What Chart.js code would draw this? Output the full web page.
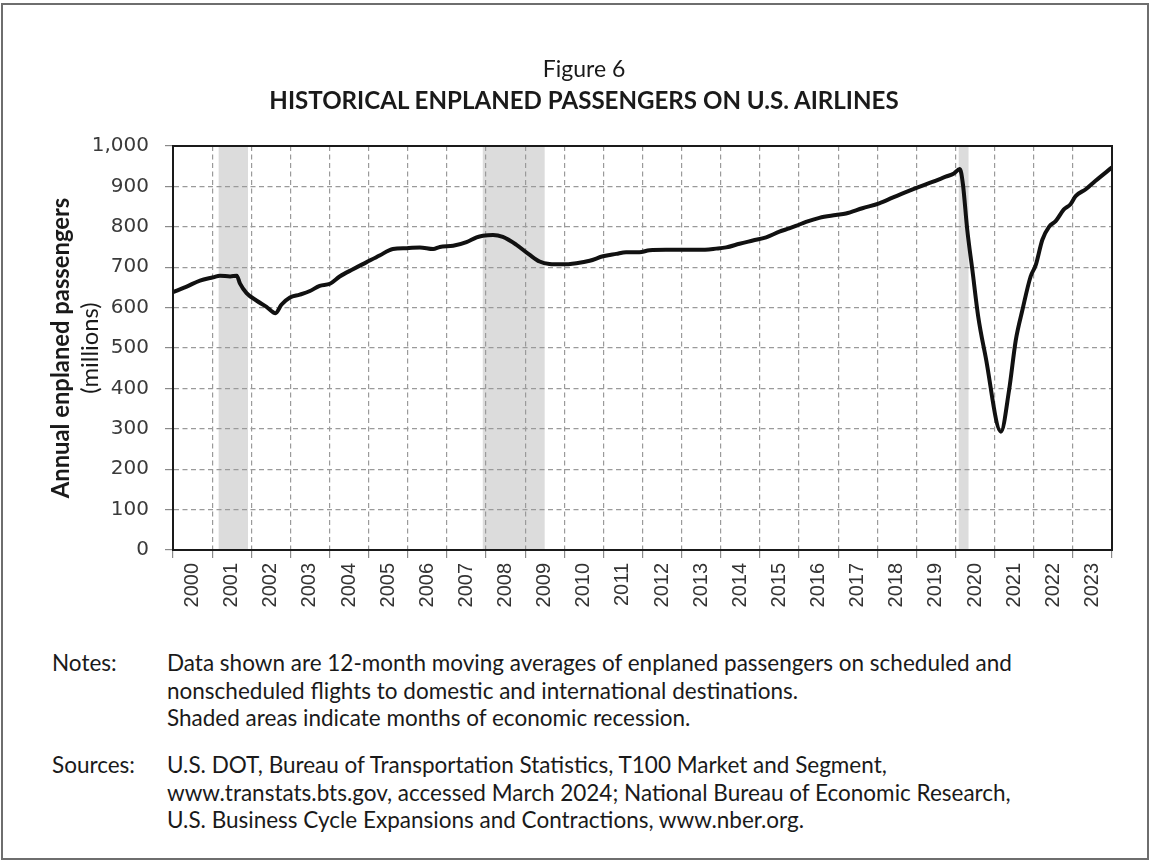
<!DOCTYPE html>
<html>
<head>
<meta charset="utf-8">
<title>Historical enplaned passengers on U.S. airlines</title>
<script src="https://cdn.jsdelivr.net/npm/chart.js@4.4.1/dist/chart.umd.min.js"></script>
<style>
body{margin:0;background:#fff;}
#page{position:relative;width:1151px;height:863px;overflow:hidden;font-family:Lato,"Noto Sans",sans-serif;color:#1a1a1a;}
#frame{position:absolute;left:1px;top:3px;width:1144px;height:853px;border:2px solid #6e6e6e;}
#chartBox{position:absolute;left:0;top:0;}
.ttl{position:absolute;left:234px;width:700px;text-align:center;font-size:24px;line-height:28px;white-space:nowrap;}
.lbl{position:absolute;left:52px;font-size:22.5px;line-height:27.5px;}
.txt{position:absolute;left:167px;font-size:22.5px;line-height:27.5px;white-space:nowrap;}
</style>
</head>
<body>
<div id="page">
  <div id="frame"></div>
  <canvas id="chartBox" width="1151" height="615"></canvas>
  <div class="ttl" style="top:54px;font-size:23px;">Figure 6</div>
  <div class="ttl" id="mainTitle" style="top:86px;font-weight:bold;">HISTORICAL ENPLANED PASSENGERS ON U.S. AIRLINES</div>
  <div class="lbl" style="top:649px;">Notes:</div>
  <div class="txt" style="top:649px;">Data shown are 12-month moving averages of enplaned passengers on scheduled and<br>nonscheduled flights to domestic and international destinations.<br>Shaded areas indicate months of economic recession.</div>
  <div class="lbl" style="top:751px;">Sources:</div>
  <div class="txt" style="top:751px;">U.S. DOT, Bureau of Transportation Statistics, T100 Market and Segment,<br>www.transtats.bts.gov, accessed March 2024; National Bureau of Economic Research,<br>U.S. Business Cycle Expansions and Contractions, www.nber.org.</div>
</div>
<script>
// year tick labels (one per year, shown in the middle of the year)
var yearLabels = ['2000','2001','2002','2003','2004','2005','2006','2007','2008','2009','2010','2011',
                  '2012','2013','2014','2015','2016','2017','2018','2019','2020','2021','2022','2023'];
var yTicks = [0,100,200,300,400,500,600,700,800,900,1000];

// time of each reading, in decimal years
var monthPos = [2000.00,2000.35,2000.69,2001.03,2001.20,2001.46,2001.63,2001.71,2001.88,2002.14,
                2002.39,2002.62,2002.77,2002.99,2003.24,2003.50,2003.75,2004.01,2004.26,2004.60,
                2004.94,2005.28,2005.62,2005.97,2006.31,2006.65,2006.82,2007.16,2007.50,2007.76,
                2007.92,2008.18,2008.43,2008.77,2009.11,2009.37,2009.62,2009.96,2010.31,2010.65,
                2010.99,2011.33,2011.58,2011.92,2012.18,2012.60,2013.03,2013.45,2013.88,2014.14,
                2014.48,2014.82,2015.16,2015.50,2015.75,2015.92,2016.18,2016.52,2016.94,2017.20,
                2017.62,2018.05,2018.39,2018.73,2019.07,2019.41,2019.75,2019.96,2020.11,2020.19,
                2020.30,2020.43,2020.58,2020.77,2021.16,2021.37,2021.54,2021.71,2021.92,
                2022.05,2022.22,2022.39,2022.56,2022.77,2022.94,2023.07,2023.33,2023.58,2024.00];
// annual enplaned passengers, millions (12-month moving average)
var passengers = [638,652,667,675,679,677,679,660,636,617,
                  602,586,607,625,632,641,654,659,677,695,
                  712,729,745,747,749,745,750,753,762,774,
                  778,780,775,756,731,714,708,707,710,716,
                  727,733,737,737,742,743,743,743,746,749,
                  758,766,774,788,796,802,812,822,829,833,
                  846,858,872,886,899,911,924,932,943,905,
                  793,694,578,478,293,396,519,594,677,
                  705,768,800,814,843,856,876,893,914,947];

// recessions (NBER), decimal years
var recessionStart = [2001.167, 2007.917, 2020.083];
var recessionEnd   = [2001.917, 2009.500, 2020.333];

var firstYear = +yearLabels[0];

// pick a font size so a text spans about the width seen in the figure
function fitSize(text, weight, family, base, target){
  var c = document.createElement('canvas').getContext('2d');
  c.font = weight + ' ' + base + 'px ' + family;
  return base * target / c.measureText(text).width;
}
var titleEl = document.getElementById('mainTitle');
titleEl.style.fontSize = fitSize(titleEl.textContent, 'bold', 'Lato', 24, 632).toFixed(1) + 'px';
var yTitleSize = fitSize('Annual enplaned passengers', 'bold', 'Lato', 21, 301);

var recessionBands = {
  id: 'recessionBands',
  beforeDraw: function(chart){
    var xs = chart.scales.x, a = chart.chartArea, ctx = chart.ctx;
    ctx.save();
    ctx.fillStyle = '#dcdcdc';
    for (var i = 0; i < recessionStart.length; i++) {
      var x1 = xs.getPixelForValue(recessionStart[i]);
      var x2 = xs.getPixelForValue(recessionEnd[i]);
      ctx.fillRect(x1, a.top, x2 - x1, a.bottom - a.top);
    }
    ctx.restore();
  }
};

var frameAndTitle = {
  id: 'frameAndTitle',
  afterDraw: function(chart){
    var a = chart.chartArea, ctx = chart.ctx;
    ctx.save();
    ctx.strokeStyle = '#1a1a1a';
    ctx.lineWidth = 2;
    ctx.strokeRect(a.left, a.top, a.right - a.left, a.bottom - a.top);
    // y axis title
    ctx.translate(61, (a.top + a.bottom) / 2);
    ctx.rotate(-Math.PI / 2);
    ctx.textAlign = 'center';
    ctx.textBaseline = 'middle';
    ctx.fillStyle = '#1a1a1a';
    ctx.font = 'bold ' + yTitleSize.toFixed(1) + 'px Lato';
    ctx.fillText('Annual enplaned passengers', 0, 0);
    ctx.font = yTitleSize.toFixed(1) + 'px Lato';
    ctx.fillText('(millions)', 0, 29);
    ctx.restore();
  }
};

var ctx = document.getElementById('chartBox').getContext('2d');
var chart = new Chart(ctx, {
  type: 'line',
  data: {
    datasets: [{
      data: monthPos.map(function(x, i){ return {x: x, y: passengers[i]}; }),
      borderColor: '#111',
      borderWidth: 4,
      pointRadius: 0,
      cubicInterpolationMode: 'monotone',
      fill: false
    }]
  },
  options: {
    responsive: false,
    animation: false,
    devicePixelRatio: 1,
    layout: { padding: { top: 146, right: 39, left: 0, bottom: 0 } },
    plugins: { legend: { display: false }, tooltip: { enabled: false } },
    scales: {
      x: {
        type: 'linear',
        min: firstYear,
        max: firstYear + yearLabels.length,
        afterBuildTicks: function(axis){
          var t = [];
          for (var i = 0; i <= yearLabels.length; i++) {
            t.push({value: firstYear + i});
            if (i < yearLabels.length) t.push({value: firstYear + i + 0.5});
          }
          axis.ticks = t;
        },
        afterFit: function(axis){ axis.height = 65; },
        grid: {
          color: function(c){ return c.tick && c.tick.value % 1 ? 'rgba(0,0,0,0)' : '#9a9a9a'; },
          tickColor: function(c){ return c.tick && c.tick.value % 1 ? 'rgba(0,0,0,0)' : '#8a8a8a'; },
          lineWidth: 1.2,
          tickLength: 8
        },
        border: { color: '#1a1a1a', width: 2, dash: [5, 3.5] },
        ticks: {
          autoSkip: false,
          minRotation: 90,
          maxRotation: 90,
          padding: 5,
          color: '#333',
          font: { family: '"Liberation Sans", Arial, sans-serif', size: 20 },
          callback: function(v){ return v % 1 ? yearLabels[Math.floor(v) - firstYear] : ''; }
        }
      },
      y: {
        min: 0,
        max: 1000,
        afterBuildTicks: function(axis){ axis.ticks = yTicks.map(function(v){ return {value: v}; }); },
        afterFit: function(axis){ axis.width = 173; },
        grid: { color: '#9a9a9a', lineWidth: 1.2, tickLength: 8, tickColor: '#8a8a8a' },
        border: { color: '#1a1a1a', width: 2, dash: [5, 3.5] },
        ticks: {
          padding: 16,
          color: '#3a3a3a',
          font: { family: '"DejaVu Sans", sans-serif', size: 20 },
          callback: function(v){ return v.toLocaleString('en-US'); }
        }
      }
    }
  },
  plugins: [recessionBands, frameAndTitle]
});
</script>
</body>
</html>
